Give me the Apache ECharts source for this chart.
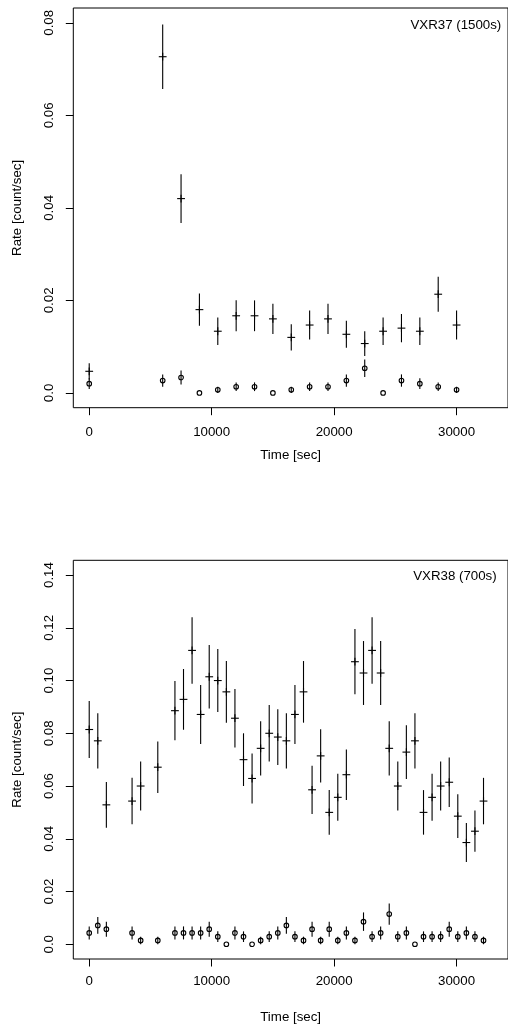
<!DOCTYPE html>
<html>
<head>
<meta charset="utf-8">
<script src="https://cdn.jsdelivr.net/npm/echarts@6/dist/echarts.min.js"></script>
<style>
  html, body { margin: 0; padding: 0; background: #fff; }
  #chart { width: 508px; height: 1025px; }
</style>
</head>
<body>
<div id="chart"></div>
<script>
// VXR37 light curve, 1500 s bins
const vxr37Time = [0, 6000, 7500, 9000, 10500, 12000, 13500, 15000, 16500, 18000,
                   19500, 21000, 22500, 24000, 25500, 27000, 28500, 30000];
const vxr37Src = [0.00467, 0.07267, 0.04200, 0.01800, 0.01333, 0.01667, 0.01667, 0.01600, 0.01200, 0.01467,
                  0.01600, 0.01267, 0.01067, 0.01333, 0.01400, 0.01333, 0.02133, 0.01467];
const vxr37SrcErr = [0.00176, 0.00696, 0.00529, 0.00346, 0.00298, 0.00333, 0.00333, 0.00327, 0.00283, 0.00313,
                     0.00327, 0.00291, 0.00267, 0.00298, 0.00306, 0.00298, 0.00377, 0.00313];
const vxr37Bkg = [0.00200, 0.00267, 0.00333, 0.00000, 0.00067, 0.00133, 0.00133, 0.00000, 0.00067, 0.00133,
                  0.00133, 0.00267, 0.00533, 0.00000, 0.00267, 0.00200, 0.00133, 0.00067];
const vxr37BkgErr = [0.00115, 0.00133, 0.00149, 0.00000, 0.00067, 0.00094, 0.00094, 0.00000, 0.00067, 0.00094,
                     0.00094, 0.00133, 0.00189, 0.00000, 0.00133, 0.00115, 0.00094, 0.00067];

// VXR38 light curve, 700 s bins
const vxr38Time = [0, 700, 1400, 3500, 4200, 5600, 7000, 7700, 8400, 9100,
                   9800, 10500, 11200, 11900, 12600, 13300, 14000, 14700, 15400, 16100,
                   16800, 17500, 18200, 18900, 19600, 20300, 21000, 21700, 22400, 23100,
                   23800, 24500, 25200, 25900, 26600, 27300, 28000, 28700, 29400, 30100,
                   30800, 31500, 32200];
const vxr38Src = [0.08143, 0.07714, 0.05286, 0.05429, 0.06000, 0.06714, 0.08857, 0.09286, 0.11143, 0.08714,
                  0.10143, 0.10000, 0.09571, 0.08571, 0.07000, 0.06286, 0.07429, 0.08000, 0.07857, 0.07714,
                  0.08714, 0.09571, 0.05857, 0.07143, 0.05000, 0.05571, 0.06429, 0.10714, 0.10286, 0.11143,
                  0.10286, 0.07429, 0.06000, 0.07286, 0.07714, 0.05000, 0.05571, 0.06000, 0.06143, 0.04857,
                  0.03857, 0.04286, 0.05429];
const vxr38SrcErr = [0.01079, 0.01050, 0.00869, 0.00881, 0.00926, 0.00979, 0.01125, 0.01152, 0.01262, 0.01116,
                     0.01204, 0.01195, 0.01169, 0.01107, 0.01000, 0.00948, 0.01030, 0.01069, 0.01059, 0.01050,
                     0.01116, 0.01169, 0.00915, 0.01010, 0.00845, 0.00892, 0.00958, 0.01237, 0.01212, 0.01262,
                     0.01212, 0.01030, 0.00926, 0.01020, 0.01050, 0.00845, 0.00892, 0.00926, 0.00937, 0.00833,
                     0.00742, 0.00782, 0.00881];
const vxr38Bkg = [0.00429, 0.00714, 0.00571, 0.00429, 0.00143, 0.00143, 0.00429, 0.00429, 0.00429, 0.00429,
                  0.00571, 0.00286, 0.00000, 0.00429, 0.00286, 0.00000, 0.00143, 0.00286, 0.00429, 0.00714,
                  0.00286, 0.00143, 0.00571, 0.00143, 0.00571, 0.00143, 0.00429, 0.00143, 0.00857, 0.00286,
                  0.00429, 0.01143, 0.00286, 0.00429, 0.00000, 0.00286, 0.00286, 0.00286, 0.00571, 0.00286,
                  0.00429, 0.00286, 0.00143];
const vxr38BkgErr = [0.00247, 0.00319, 0.00286, 0.00247, 0.00143, 0.00143, 0.00247, 0.00247, 0.00247, 0.00247,
                     0.00286, 0.00202, 0.00000, 0.00247, 0.00202, 0.00000, 0.00143, 0.00202, 0.00247, 0.00319,
                     0.00202, 0.00143, 0.00286, 0.00143, 0.00286, 0.00143, 0.00247, 0.00143, 0.00350, 0.00202,
                     0.00247, 0.00404, 0.00202, 0.00247, 0.00000, 0.00202, 0.00202, 0.00202, 0.00286, 0.00202,
                     0.00247, 0.00202, 0.00143];

// Axis ticks and their printed labels
const timeTicks = [0, 10000, 20000, 30000];
const timeTickLabels = ['0', '10000', '20000', '30000'];
const vxr37RateTicks = [0, 0.02, 0.04, 0.06, 0.08];
const vxr37RateLabels = ['0.0', '0.02', '0.04', '0.06', '0.08'];
const vxr38RateTicks = [0, 0.02, 0.04, 0.06, 0.08, 0.10, 0.12, 0.14];
const vxr38RateLabels = ['0.0', '0.02', '0.04', '0.06', '0.08', '0.10', '0.12', '0.14'];

const FONT = 'Liberation Sans, Arial, Helvetica, sans-serif';
const FS = 13.3;

function rows(t, v, e) {
  return t.map((x, i) => [x, v[i], e[i]]);
}

// Error bar with a '+' or open-circle marker at the measured rate
function pointRenderer(kind) {
  return function (params, api) {
    const x = api.value(0), y = api.value(1), e = api.value(2);
    const c = api.coord([x, y]);
    const style = { stroke: '#000', lineWidth: 1.1, fill: null };
    const children = [];
    if (e > 0) {
      const hi = api.coord([x, y + e]);
      const lo = api.coord([x, y - e]);
      children.push({ type: 'line', shape: { x1: c[0], y1: hi[1], x2: c[0], y2: lo[1] }, style });
    }
    if (kind === 'cross') {
      const a = 3.9;
      children.push({ type: 'line', shape: { x1: c[0] - a, y1: c[1], x2: c[0] + a, y2: c[1] }, style });
      children.push({ type: 'line', shape: { x1: c[0], y1: c[1] - a, x2: c[0], y2: c[1] + a }, style });
    } else {
      children.push({ type: 'circle', shape: { cx: c[0], cy: c[1], r: 2.3 }, style });
    }
    return { type: 'group', children };
  };
}

function xAxisDef(gridIndex, nameGap, labelMargin) {
  return {
    type: 'value', gridIndex, min: -1300, max: 34200,
    name: 'Time [sec]', nameLocation: 'middle', nameGap,
    nameTextStyle: { color: '#000', fontFamily: FONT, fontSize: FS },
    axisLine: { show: false, onZero: false },
    axisTick: { show: true, inside: false, length: 7.5, customValues: timeTicks,
                lineStyle: { color: '#000', width: 1 } },
    axisLabel: { customValues: timeTicks, margin: labelMargin, color: '#000',
                 fontFamily: FONT, fontSize: FS,
                 formatter: v => timeTickLabels[timeTicks.indexOf(v)] },
    splitLine: { show: false }
  };
}

function yAxisDef(gridIndex, min, max, ticks, labels) {
  return {
    type: 'value', gridIndex, min, max,
    name: 'Rate [count/sec]', nameLocation: 'middle', nameRotate: 90, nameGap: 49,
    nameTextStyle: { color: '#000', fontFamily: FONT, fontSize: FS },
    axisLine: { show: false, onZero: false },
    axisTick: { show: true, inside: false, length: 7.5, customValues: ticks,
                lineStyle: { color: '#000', width: 1 } },
    axisLabel: { customValues: ticks, rotate: 90, margin: 17, color: '#000',
                 fontFamily: FONT, fontSize: FS,
                 formatter: v => labels[ticks.findIndex(t => Math.abs(t - v) < 1e-9)] },
    splitLine: { show: false }
  };
}

const chart = echarts.init(document.getElementById('chart'), null, { renderer: 'canvas' });
chart.setOption({
  animation: false,
  backgroundColor: '#fff',
  title: [
    { text: 'VXR37 (1500s)', right: 6.7, top: 17, padding: 0,
      textStyle: { color: '#000', fontFamily: FONT, fontSize: FS, fontWeight: 'normal', lineHeight: 16 } },
    { text: 'VXR38 (700s)', right: 11.3, top: 568.5, padding: 0,
      textStyle: { color: '#000', fontFamily: FONT, fontSize: FS, fontWeight: 'normal', lineHeight: 16 } }
  ],
  grid: [
    { left: 73.3, top: 8, width: 448.4, height: 399.7, show: true,
      borderColor: '#000', borderWidth: 1, backgroundColor: 'transparent' },
    { left: 73.3, top: 560.3, width: 448.4, height: 399.7, show: true,
      borderColor: '#000', borderWidth: 1, backgroundColor: 'transparent' }
  ],
  xAxis: [xAxisDef(0, 41.5, 18), xAxisDef(1, 52, 16)],
  yAxis: [
    yAxisDef(0, -0.0032, 0.0832, vxr37RateTicks, vxr37RateLabels),
    yAxisDef(1, -0.0056, 0.1456, vxr38RateTicks, vxr38RateLabels)
  ],
  series: [
    { type: 'custom', name: 'VXR37 source', xAxisIndex: 0, yAxisIndex: 0,
      renderItem: pointRenderer('cross'), data: rows(vxr37Time, vxr37Src, vxr37SrcErr) },
    { type: 'custom', name: 'VXR37 background', xAxisIndex: 0, yAxisIndex: 0,
      renderItem: pointRenderer('circle'), data: rows(vxr37Time, vxr37Bkg, vxr37BkgErr) },
    { type: 'custom', name: 'VXR38 source', xAxisIndex: 1, yAxisIndex: 1,
      renderItem: pointRenderer('cross'), data: rows(vxr38Time, vxr38Src, vxr38SrcErr) },
    { type: 'custom', name: 'VXR38 background', xAxisIndex: 1, yAxisIndex: 1,
      renderItem: pointRenderer('circle'), data: rows(vxr38Time, vxr38Bkg, vxr38BkgErr) }
  ]
});
</script>
</body>
</html>
